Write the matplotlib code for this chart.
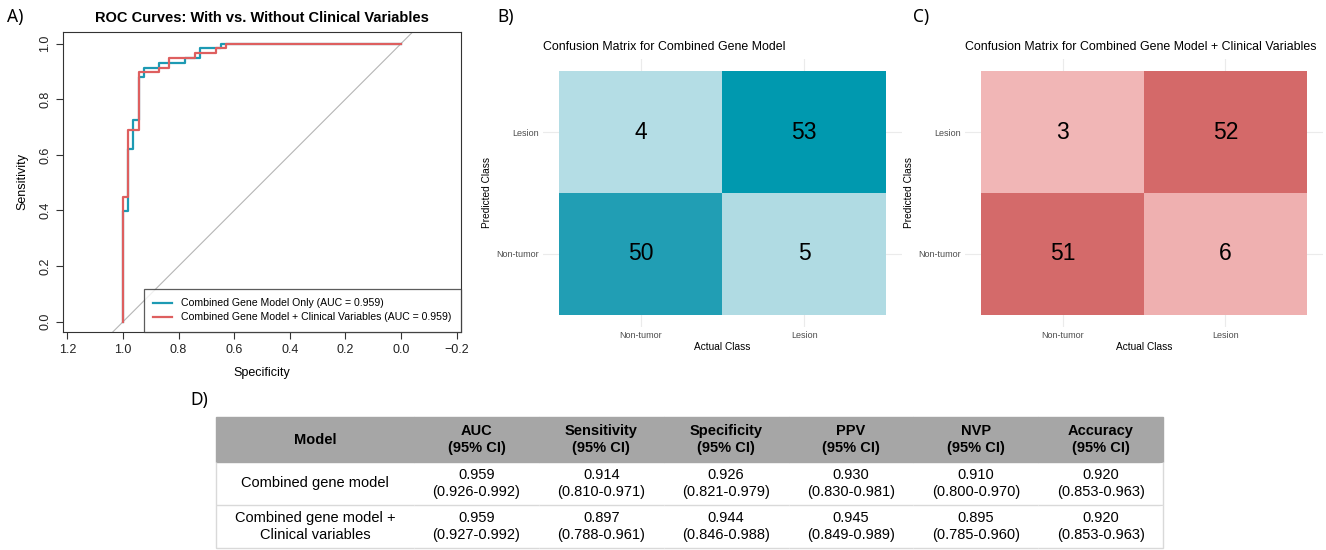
import matplotlib.pyplot as plt
from matplotlib.colors import LinearSegmentedColormap

# ROC curves (specificity, sensitivity) at each step corner
spec_gene = [1.0, 0.981, 0.963, 0.944, 0.926, 0.870, 0.778, 0.722, 0.648, 0.0]
sens_gene = [0.0, 0.397, 0.621, 0.724, 0.879, 0.914, 0.931, 0.948, 0.983, 1.0]
spec_clin = [1.0, 0.981, 0.944, 0.870, 0.833, 0.741, 0.667, 0.630, 0.0]
sens_clin = [0.0, 0.448, 0.690, 0.897, 0.914, 0.948, 0.966, 0.983, 1.0]
auc_gene = 0.959
auc_clin = 0.959

# confusion matrices: rows = predicted (Non-tumor, Lesion), cols = actual (Non-tumor, Lesion)
classes = ['Non-tumor', 'Lesion']
cm_gene = [[50, 5], [4, 53]]
cm_clin = [[51, 6], [3, 52]]

# table
col_labels = ['Model', 'AUC\n(95% CI)', 'Sensitivity\n(95% CI)', 'Specificity\n(95% CI)',
              'PPV\n(95% CI)', 'NVP\n(95% CI)', 'Accuracy\n(95% CI)']
row_gene = ['Combined gene model', '0.959\n(0.926-0.992)', '0.914\n(0.810-0.971)',
            '0.926\n(0.821-0.979)', '0.930\n(0.830-0.981)', '0.910\n(0.800-0.970)',
            '0.920\n(0.853-0.963)']
row_clin = ['Combined gene model +\nClinical variables', '0.959\n(0.927-0.992)',
            '0.897\n(0.788-0.961)', '0.944\n(0.846-0.988)', '0.945\n(0.849-0.989)',
            '0.895\n(0.785-0.960)', '0.920\n(0.853-0.963)']

W, H = 1326, 550
plt.rcParams['font.family'] = ['Liberation Sans', 'DejaVu Sans']
fig = plt.figure(figsize=(W / 100, H / 100), dpi=100)


def rect(l, t, r, b):
    return [l / W, 1 - b / H, (r - l) / W, (b - t) / H]


def label(x, y, s):
    fig.text(x / W, 1 - y / H, s, fontsize=12.5, family='Noto Sans', ha='left', va='center')


blue = '#1d9ab3'
red = '#de5f5f'

# ---- A) ROC
ax = fig.add_axes(rect(63, 32, 461, 332))
ax.axline((1, 0), (0, 1), color='#b5b5b5', lw=0.8, zorder=1)
ax.plot(spec_gene, sens_gene, drawstyle='steps-pre', color=blue, lw=1.6,
        label='Combined Gene Model Only (AUC = %.3f)' % auc_gene)
ax.plot(spec_clin, sens_clin, drawstyle='steps-pre', color=red, lw=1.6,
        label='Combined Gene Model + Clinical Variables (AUC = %.3f)' % auc_clin)
ax.set_xlim(1.216, -0.216)
ax.set_ylim(-0.037, 1.042)
ax.set_xticks([1.2, 1.0, 0.8, 0.6, 0.4, 0.2, 0.0, -0.2])
ax.set_yticks([0, 0.2, 0.4, 0.6, 0.8, 1.0])
ax.tick_params(labelsize=9, length=5, color='#333333', labelcolor='#222222')
for t in ax.get_yticklabels():
    t.set_rotation(90)
    t.set_va('center')
for s in ax.spines.values():
    s.set_color('#333333')
ax.set_xlabel('Specificity', fontsize=9, labelpad=8)
ax.set_ylabel('Sensitivity', fontsize=9, labelpad=8)
ax.set_title('ROC Curves: With vs. Without Clinical Variables', fontsize=10.5,
             fontweight='bold', pad=7)
leg = ax.legend(loc='lower right', fontsize=7.6, frameon=True, fancybox=False,
                borderaxespad=0, handlelength=1.8, handletextpad=0.85,
                borderpad=0.9, labelspacing=0.4)
leg.get_frame().set_edgecolor('#333333')
leg.get_frame().set_linewidth(0.9)
label(7, 17, 'A)')


# ---- B) and C) confusion matrices
def conf(l, r, cm, colors, title, tag, tag_x):
    ax = fig.add_axes(rect(l, 59, r, 327))
    cmap = LinearSegmentedColormap.from_list('c', colors)
    ax.set_axisbelow(True)
    ax.grid(color='#ebebeb', lw=0.8)
    ax.imshow(cm, cmap=cmap, origin='lower', extent=(-0.5, 1.5, -0.5, 1.5),
              aspect='auto', zorder=2)
    for i in range(2):
        for j in range(2):
            ax.text(j, i, str(cm[i][j]), ha='center', va='center', fontsize=16.5, zorder=3)
    ax.set_xlim(-0.6, 1.6)
    ax.set_ylim(-0.6, 1.6)
    ax.set_xticks([0, 1], classes)
    ax.set_yticks([0, 1], classes)
    ax.tick_params(length=0, labelsize=6.5, labelcolor='#4d4d4d', pad=3)
    for s in ax.spines.values():
        s.set_visible(False)
    ax.set_xlabel('Actual Class', fontsize=7.3, labelpad=1)
    ax.set_ylabel('Predicted Class', fontsize=7.3, labelpad=3)
    fig.text(l / W, 1 - 47 / H, title, fontsize=8.9, ha='left', va='center')
    label(tag_x, 17, tag)


conf(543, 902, cm_gene, [(0, '#b4dde5'), (0.94, '#229fb5'), (1, '#0099af')],
     'Confusion Matrix for Combined Gene Model', 'B)', 497)
conf(965, 1323, cm_clin, [(0, '#f1b6b6'), (0.06, '#efb0b0'), (1, '#d46969')],
     'Confusion Matrix for Combined Gene Model + Clinical Variables', 'C)', 913)

# ---- D) table
ax = fig.add_axes(rect(216, 417, 1163, 548))
ax.axis('off')
widths = [198 / 947] + [124.8 / 947] * 6
tab = ax.table(cellText=[row_gene, row_clin], colLabels=col_labels, colWidths=widths,
               bbox=[0, 0, 1, 1], cellLoc='center')
tab.auto_set_font_size(False)
for (r, c), cell in tab.get_celld().items():
    cell.set_height(45 / 131 if r == 0 else 43 / 131)
    cell.set_linewidth(1.0)
    cell.get_text().set_fontsize(10.5)
    cell.get_text().set_linespacing(1.25)
    if r == 0:
        cell.set_facecolor('#a6a6a6')
        cell.set_edgecolor('#a6a6a6')
        cell.get_text().set_fontweight('bold')
    else:
        cell.set_edgecolor('#d9d9d9')
        cell.visible_edges = 'B' + ('L' if c == 0 else '') + ('R' if c == 6 else '')
label(190, 400, 'D)')

plt.savefig('out.png', dpi=100)
